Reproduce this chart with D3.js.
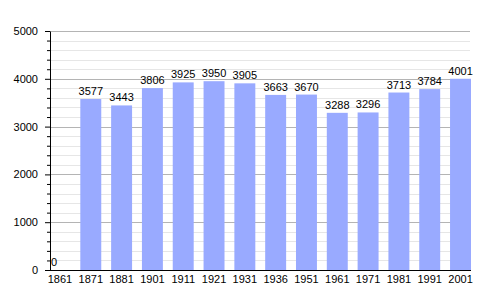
<!DOCTYPE html>
<html>
<head>
<meta charset="utf-8">
<script src="https://cdn.jsdelivr.net/npm/d3@7"></script>
<style>
  body { margin: 0; background: #fff; }
  svg text { font-family: "Liberation Sans", Arial, sans-serif; }
</style>
</head>
<body>
<div id="chart"></div>
<script>
// census years and population
var years = ["1861", "1871", "1881", "1901", "1911", "1921", "1931", "1936", "1951", "1961", "1971", "1981", "1991", "2001"];
var population = [0, 3577, 3443, 3806, 3925, 3950, 3905, 3663, 3670, 3288, 3296, 3713, 3784, 4001];
var yTicks = [0, 1000, 2000, 3000, 4000, 5000];

var width = 500, height = 300;
var plotLeft = 50, plotRight = 471, plotTop = 31, plotBottom = 270;

var svg = d3.select("#chart")
  .append("svg")
    .attr("width", width)
    .attr("height", height);

var x = d3.scaleBand()
  .domain(years)
  .range([49.5, plotRight])
  .paddingInner(0.32)
  .paddingOuter(0);

var y = d3.scaleLinear()
  .domain([0, 5000])
  .range([plotBottom, plotTop]);

// minor gridlines
var minor = d3.range(0, 5001, 200).filter(d => d % 1000 !== 0);
svg.append("g")
  .selectAll("line")
  .data(minor)
  .join("line")
    .attr("x1", plotLeft).attr("x2", 470)
    .attr("y1", d => Math.round(y(d)) + 0.5).attr("y2", d => Math.round(y(d)) + 0.5)
    .attr("stroke", "#e6e6e6");

// major gridlines
svg.append("g")
  .selectAll("line")
  .data(yTicks.filter(d => d > 0))
  .join("line")
    .attr("x1", plotLeft).attr("x2", 470)
    .attr("y1", d => Math.round(y(d)) + 0.5).attr("y2", d => Math.round(y(d)) + 0.5)
    .attr("stroke", "#b4b4b4");

// bars
svg.append("g")
  .selectAll("rect")
  .data(population)
  .join("rect")
    .attr("x", (d, i) => x(years[i]))
    .attr("y", d => y(d))
    .attr("width", x.bandwidth())
    .attr("height", d => plotBottom - y(d))
    .attr("fill", "#99aaff");

// value labels
svg.append("g")
  .selectAll("text")
  .data(population)
  .join("text")
    .attr("x", (d, i) => x(years[i]) + x.bandwidth() / 2 + (d === 0 ? -9 : 0))
    .attr("y", d => y(d) - 4)
    .attr("text-anchor", d => d === 0 ? "start" : "middle")
    .attr("font-size", 11)
    .attr("fill", "#000")
    .text(d => d);

// y axis minor ticks
svg.append("g")
  .attr("transform", "translate(" + plotLeft + ",0)")
  .call(d3.axisLeft(y).tickValues(minor).tickSize(3).tickFormat(""))
  .call(g => g.select(".domain").remove());

// y axis
svg.append("g")
  .attr("transform", "translate(" + plotLeft + ",0)")
  .call(d3.axisLeft(y).tickValues(yTicks).tickFormat(d3.format("d")).tickSize(5).tickSizeOuter(0).tickPadding(7))
  .call(g => g.selectAll("text").attr("font-size", 11).attr("font-family", "Liberation Sans, Arial, sans-serif"));

// x axis
svg.append("g")
  .attr("transform", "translate(0," + plotBottom + ")")
  .call(d3.axisBottom(x).tickSize(0).tickPadding(5))
  .call(g => g.select(".domain").attr("d", "M" + plotLeft + ",0.5H" + plotRight))
  .call(g => g.selectAll("text").attr("font-size", 11).attr("font-family", "Liberation Sans, Arial, sans-serif"));
</script>
</body>
</html>
